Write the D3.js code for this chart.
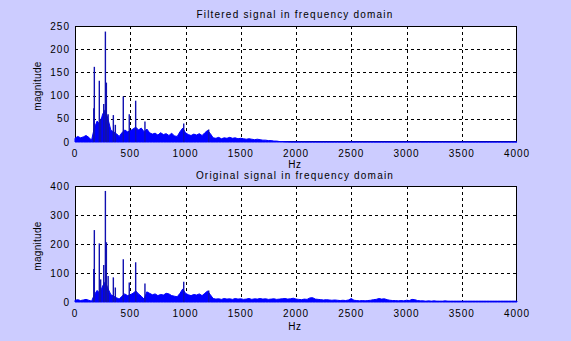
<!DOCTYPE html>
<html>
<head>
<meta charset="utf-8">
<script src="https://cdn.jsdelivr.net/npm/d3@7"></script>
<style>
  html, body { margin: 0; padding: 0; background: #ccccff; }
  svg { display: block; }
  text { font-family: "Liberation Sans", Arial, sans-serif; fill: #000; }
</style>
</head>
<body>
<svg id="chart" width="571" height="341"></svg>
<script>
// Spectrum sampled every 25 Hz from 0 to 4000 Hz (noise floor envelope)
const freqStep = 25;
const xTicks = [0, 500, 1000, 1500, 2000, 2500, 3000, 3500, 4000];
const yTicksFiltered = [0, 50, 100, 150, 200, 250];
const yTicksOriginal = [0, 100, 200, 300, 400];

const filteredNoise = [
  8,12,9,11,14,10,4,30,45,38,60,70,48,25,22,18,12,20,26,22,
  24,28,32,26,30,22,28,20,17,19,15,20,16,18,14,19,13,12,22,30,
  20,16,14,17,15,18,14,20,25,18,9,8,10,7,9,8,10,8,9,7,
  8,7,6,7,6,5,6,5,4,4,3,3,2,2,1,1,0.5,0.3,0,0,
  0,0,0,0,0,0,0,0,0,0,0,0,0,0,0,0,0,0,0,0,
  0,0,0,0,0,0,0,0,0,0,0,0,0,0,0,0,0,0,0,0,
  0,0,0,0,0,0,0,0,0,0,0,0,0,0,0,0,0,0,0,0,
  0,0,0,0,0,0,0,0,0,0,0,0,0,0,0,0,0,0,0,0,
  0
];

const originalNoise = [
  6,8,5,7,9,6,3,25,40,30,55,70,45,25,20,15,10,20,28,22,
  25,30,38,28,20,10,35,30,25,28,22,26,24,30,28,22,20,18,30,45,
  30,25,22,26,24,28,22,30,38,25,12,10,11,9,12,10,11,9,12,10,
  11,9,10,12,9,11,10,12,10,11,9,10,11,9,10,11,12,10,11,13,
  10,9,8,10,9,14,15,10,9,8,7,8,7,6,7,6,5,6,5,7,
  12,6,5,4,5,4,5,6,8,9,12,10,11,8,6,5,5,4,5,4,
  6,5,9,8,5,4,4,3,4,3,4,3,3,3,4,3,3,3,3,3,
  3,3,3,3,3,3,3,3,3,3,3,3,3,3,3,3,3,3,3,3,
  3
];

// Narrow tonal peaks (Hz) and their magnitudes
const peakFreqs     = [170, 175, 220, 232, 260, 275, 284, 300, 347, 365, 437, 491, 549, 633, 984, 1210];
const filteredPeaks = [ 73, 162, 132,  50,  82, 238, 128,  60,  58,  37,  98,  60,  89,  44,  40,   27];
const originalPeaks = [114, 248, 202,  78, 128, 383, 206,  90,  85,  50, 147,  67, 137,  64,  70,   40];

const panels = [
  { title: "Filtered signal in frequency domain", top: 26, bottom: 142, yMax: 250,
    yTicks: yTicksFiltered, noise: filteredNoise, peaks: filteredPeaks,
    titleY: 18, tickY: 156.5, hzY: 167.8, ylabY: 86 },
  { title: "Original signal in frequency domain", top: 186, bottom: 302, yMax: 400,
    yTicks: yTicksOriginal, noise: originalNoise, peaks: originalPeaks,
    titleY: 179, tickY: 316.5, hzY: 329.5, ylabY: 246 }
];

const svg = d3.select("#chart");
const left = 75, right = 517;
const x = d3.scaleLinear().domain([0, 4000]).range([left, right]);
const fontSize = 10;

panels.forEach(p => {
  const y = d3.scaleLinear().domain([0, p.yMax]).range([p.bottom, p.top]);
  const g = svg.append("g");

  // white axes background
  g.append("rect").attr("x", left).attr("y", p.top)
    .attr("width", right - left).attr("height", p.bottom - p.top)
    .attr("fill", "#fff");

  // dashed grid
  g.selectAll(".vgrid").data(xTicks.slice(1, -1)).join("line")
    .attr("x1", d => Math.round(x(d)) + 0.5).attr("x2", d => Math.round(x(d)) + 0.5)
    .attr("y1", p.top).attr("y2", p.bottom)
    .attr("stroke", "#000").attr("stroke-width", 1).attr("stroke-dasharray", "3,3");
  g.selectAll(".hgrid").data(p.yTicks.slice(1, -1)).join("line")
    .attr("x1", left).attr("x2", right)
    .attr("y1", d => Math.round(y(d)) + 0.5).attr("y2", d => Math.round(y(d)) + 0.5)
    .attr("stroke", "#000").attr("stroke-width", 1).attr("stroke-dasharray", "3,3");

  // axes box
  g.append("rect").attr("x", left + 0.5).attr("y", p.top + 0.5)
    .attr("width", right - left - 1).attr("height", p.bottom - p.top - 1)
    .attr("fill", "none").attr("stroke", "#000");

  // noise floor of the spectrum
  const pts = p.noise.map((v, i) => [i * freqStep, v]);
  g.append("path").datum(pts)
    .attr("d", d3.area().x(d => x(d[0])).y0(y(0)).y1(d => y(d[1])))
    .attr("fill", "#0000ff").attr("stroke", "#0000ff").attr("stroke-width", 1);

  // tonal peaks
  g.selectAll(".peak").data(peakFreqs.map((f, i) => [f, p.peaks[i]])).join("line")
    .attr("x1", d => x(d[0])).attr("x2", d => x(d[0]))
    .attr("y1", y(0)).attr("y2", d => y(d[1]))
    .attr("stroke", "#1010b0").attr("stroke-width", 1.4);

  // x tick labels
  g.selectAll(".xt").data(xTicks).join("text")
    .attr("x", d => x(d)).attr("y", p.tickY)
    .attr("text-anchor", "middle").attr("font-size", fontSize)
    .attr("letter-spacing", 1)
    .text(d => d);

  // y tick labels
  g.selectAll(".yt").data(p.yTicks).join("text")
    .attr("x", 70).attr("y", d => y(d) + 3.6)
    .attr("text-anchor", "end").attr("font-size", fontSize)
    .attr("letter-spacing", 1)
    .text(d => d);

  // title, x label, y label
  g.append("text").attr("x", 295).attr("y", p.titleY)
    .attr("text-anchor", "middle").attr("font-size", fontSize)
    .attr("letter-spacing", 1.2).text(p.title);
  g.append("text").attr("x", 295).attr("y", p.hzY)
    .attr("text-anchor", "middle").attr("font-size", fontSize)
    .attr("letter-spacing", 0.6).text("Hz");
  g.append("text").attr("transform", `translate(41,${p.ylabY}) rotate(-90)`)
    .attr("text-anchor", "middle").attr("font-size", fontSize)
    .attr("letter-spacing", 0.3).text("magnitude");
});
</script>
</body>
</html>
